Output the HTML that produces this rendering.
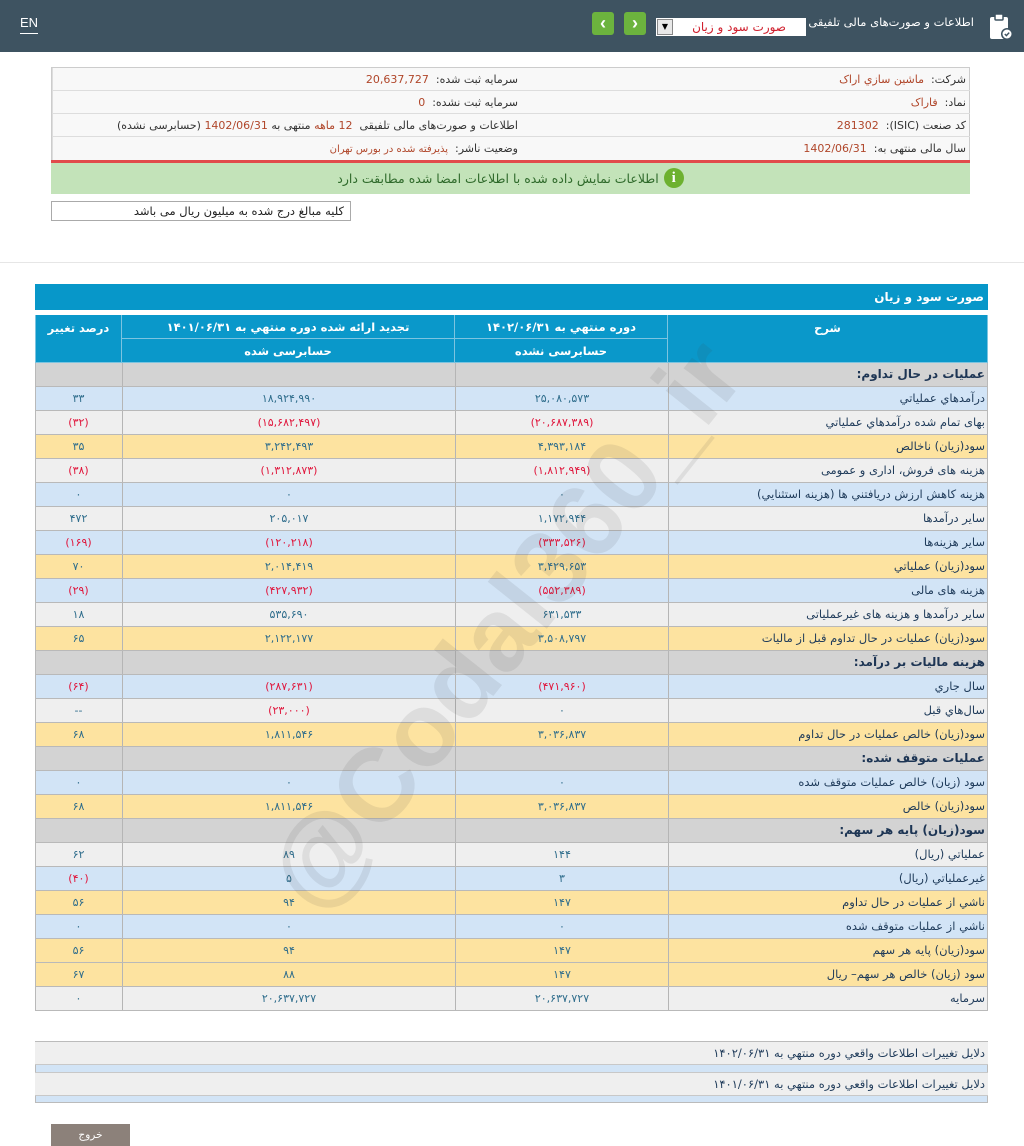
<!DOCTYPE html>
<html lang="fa">
<head>
<meta charset="utf-8">
<style>
*{margin:0;padding:0;box-sizing:border-box}
html,body{width:1024px;height:1146px;overflow:hidden;background:#fff;font-family:"DejaVu Sans","Liberation Sans",sans-serif;font-size:11px;color:#333}
.abs{position:absolute}
#hdr{left:0;top:0;width:1024px;height:52px;background:#3e5361}
.en{left:20px;top:14px;color:#fff;font-family:"Liberation Sans",sans-serif;font-size:13px;border-bottom:1px solid #fff;line-height:18px;padding-bottom:1px}
.gbtn{top:12px;width:22px;height:23px;background:#6cb33e;border-radius:3px;color:#fff;font-family:"Liberation Sans",sans-serif;font-size:18px;font-weight:bold;text-align:center;line-height:22px}
.sel{left:656px;top:18px;width:150px;height:18px;background:#fff;direction:rtl;color:#d0202e;font-size:12px;line-height:18px;padding-right:20px}
.selb{left:657px;top:19px;width:16px;height:16px;background:#e8e8e8;border:1px solid #888;font-size:8px;line-height:14px;text-align:center;color:#000}
.htitle{right:50px;top:13px;color:#fff;font-size:11.5px;direction:rtl;line-height:18px}
.info{left:51px;top:67px;width:919px;height:94px;border:1px solid #ccc;background:#f8f8f8}
.irow{position:absolute;height:23px;border-bottom:1px solid #ddd;direction:rtl;line-height:23px;font-size:11px;color:#333;padding-right:4px;white-space:nowrap}
.v{color:#b0462a}
.redline{left:51px;top:160px;width:919px;height:3px;background:#e14b4b}
.green{left:51px;top:163px;width:919px;height:31px;background:#c3e3b9;direction:rtl;text-align:center;line-height:31px;font-size:12.5px;color:#2f6a2b}
.icon{display:inline-block;width:20px;height:20px;border-radius:50%;background:#6db12f;color:#fff;font-weight:bold;font-family:"Liberation Serif",serif;font-size:15px;line-height:20px;text-align:center;vertical-align:middle;margin-left:5px;position:relative;top:-2px}
.note{left:51px;top:201px;width:300px;height:20px;border:1px solid #aaa;direction:rtl;padding-right:6px;line-height:18px;font-size:11.5px;color:#222}
.sep{left:0;top:262px;width:1024px;height:1px;background:#e6e6e6}
.title{left:35px;top:284px;width:953px;height:26px;background:#0797c9;color:#fff;direction:rtl;padding-right:4px;line-height:26px;font-size:12px;font-weight:bold}
.th{position:absolute;background:#0a98ca;color:#fff;text-align:center;font-weight:bold;font-size:11.5px;direction:rtl;border-right:1px solid #7cc4e0;border-bottom:1px solid #7cc4e0}
.row{position:absolute;left:35px;width:953px;height:24px;border-bottom:1px solid #b9b9b9}
.c{position:absolute;top:0;height:23px;line-height:23px;text-align:center;color:#2f6d8c;font-size:11px;direction:rtl;white-space:nowrap}
.c1{left:0;width:87px}
.c2{left:87px;width:333px;border-left:1px solid #b5b5b5}
.c3{left:420px;width:213px;border-left:1px solid #b5b5b5}
.c4{left:633px;width:320px;border-left:1px solid #b5b5b5;text-align:right;padding-right:3px;color:#1f3b5a;font-size:11.5px}
.sec .c4{font-weight:bold;color:#1d3554;font-size:12px}
.r{color:#e0173d}
.sec{background:#d3d3d3}
.lt{background:#efefef}
.bl{background:#d2e4f6}
.yl{background:#fde3a0}
.wm{left:140px;top:570px;width:730px;text-align:center;transform:rotate(-51.5deg);font-family:"Liberation Sans",sans-serif;font-weight:bold;font-size:104px;color:rgba(70,70,70,0.10);white-space:nowrap;line-height:110px;pointer-events:none}
.bb{left:35px;width:953px;background:#efefef;direction:rtl;padding-right:3px;font-size:11.5px;color:#1f3b5a}
.exit{left:51px;top:1124px;width:79px;height:22px;background:#8c817a;color:#fff;text-align:center;line-height:22px;font-size:10.5px}
</style>
</head>
<body>
<div id="hdr" class="abs"></div>
<div class="abs en">EN</div>
<div class="abs gbtn" style="left:592px">&#8249;</div>
<div class="abs gbtn" style="left:624px">&#8250;</div>
<div class="abs sel">صورت سود و زیان</div>
<div class="abs selb">&#9660;</div>
<div class="abs htitle">اطلاعات و صورت‌های مالی تلفیقی</div>
<svg class="abs" style="left:988px;top:13px" width="26" height="28" viewBox="0 0 26 28">
<rect x="2" y="4" width="18" height="22" rx="2" fill="#fff"/>
<rect x="7" y="1" width="8" height="6" rx="1" fill="#fff" stroke="#3e5361" stroke-width="1.5"/>
<circle cx="19" cy="21" r="6" fill="#3e5361"/>
<circle cx="19" cy="21" r="4.5" fill="#fff"/>
<path d="M16.8 21 l1.6 1.6 l2.8 -3" stroke="#3e5361" stroke-width="1.4" fill="none"/>
</svg>

<div class="abs info">
 <div class="irow" style="left:470px;top:0;width:448px;">شرکت:&nbsp; <span class="v">ماشین سازي اراک</span></div>
 <div class="irow" style="left:0;top:0;width:470px;border-left:1px solid #ddd">سرمایه ثبت شده:&nbsp; <span class="v">20,637,727</span></div>
 <div class="irow" style="left:470px;top:23px;width:448px;">نماد:&nbsp; <span class="v">فاراک</span></div>
 <div class="irow" style="left:0;top:23px;width:470px;border-left:1px solid #ddd">سرمایه ثبت نشده:&nbsp; <span class="v">0</span></div>
 <div class="irow" style="left:470px;top:46px;width:448px;">کد صنعت (ISIC):&nbsp; <span class="v">281302</span></div>
 <div class="irow" style="left:0;top:46px;width:470px;border-left:1px solid #ddd">اطلاعات و صورت‌های مالی تلفیقی&nbsp; <span class="v">12 ماهه</span> منتهی به <span class="v">1402/06/31</span> (حسابرسی نشده)</div>
 <div class="irow" style="left:470px;top:69px;width:448px;border-bottom:none">سال مالی منتهی به:&nbsp; <span class="v">1402/06/31</span></div>
 <div class="irow" style="left:0;top:69px;width:470px;border-left:1px solid #ddd;border-bottom:none">وضعیت ناشر:&nbsp; <span class="v" style="font-size:10px">پذیرفته شده در بورس تهران</span></div>
</div>
<div class="abs redline"></div>
<div class="abs green"><span class="icon">i</span>اطلاعات نمایش داده شده با اطلاعات امضا شده مطابقت دارد</div>
<div class="abs note">کلیه مبالغ درج شده به میلیون ریال می باشد</div>
<div class="abs sep"></div>

<div class="abs title">صورت سود و زیان</div>
<div class="th" style="left:35px;top:315px;width:87px;height:48px;line-height:26px;border-left:1px solid #7cc4e0">درصد تغییر</div>
<div class="th" style="left:122px;top:315px;width:333px;height:24px;line-height:24px">تجدید ارائه شده دوره منتهي به ۱۴۰۱/۰۶/۳۱</div>
<div class="th" style="left:122px;top:339px;width:333px;height:24px;line-height:24px">حسابرسی شده</div>
<div class="th" style="left:455px;top:315px;width:213px;height:24px;line-height:24px">دوره منتهي به ۱۴۰۲/۰۶/۳۱</div>
<div class="th" style="left:455px;top:339px;width:213px;height:24px;line-height:24px">حسابرسی نشده</div>
<div class="th" style="left:668px;top:315px;width:320px;height:48px;line-height:26px">شرح</div>

<div class="row sec" style="top:363px"><div class="c c1"></div><div class="c c2"></div><div class="c c3"></div><div class="c c4">عملیات در حال تداوم:</div></div>
<div class="row bl" style="top:387px"><div class="c c1">۳۳</div><div class="c c2">۱۸,۹۲۴,۹۹۰</div><div class="c c3">۲۵,۰۸۰,۵۷۳</div><div class="c c4">درآمدهاي عملياتي</div></div>
<div class="row lt" style="top:411px"><div class="c c1 r">(۳۲)</div><div class="c c2 r">(۱۵,۶۸۲,۴۹۷)</div><div class="c c3 r">(۲۰,۶۸۷,۳۸۹)</div><div class="c c4">بهاى تمام شده درآمدهاي عملياتي</div></div>
<div class="row yl" style="top:435px"><div class="c c1">۳۵</div><div class="c c2">۳,۲۴۲,۴۹۳</div><div class="c c3">۴,۳۹۳,۱۸۴</div><div class="c c4">سود(زيان) ناخالص</div></div>
<div class="row lt" style="top:459px"><div class="c c1 r">(۳۸)</div><div class="c c2 r">(۱,۳۱۲,۸۷۳)</div><div class="c c3 r">(۱,۸۱۲,۹۴۹)</div><div class="c c4">هزينه هاى فروش، ادارى و عمومى</div></div>
<div class="row bl" style="top:483px"><div class="c c1">۰</div><div class="c c2">۰</div><div class="c c3">۰</div><div class="c c4">هزينه کاهش ارزش دريافتني ها (هزينه استثنايي)</div></div>
<div class="row lt" style="top:507px"><div class="c c1">۴۷۲</div><div class="c c2">۲۰۵,۰۱۷</div><div class="c c3">۱,۱۷۲,۹۴۴</div><div class="c c4">ساير درآمدها</div></div>
<div class="row bl" style="top:531px"><div class="c c1 r">(۱۶۹)</div><div class="c c2 r">(۱۲۰,۲۱۸)</div><div class="c c3 r">(۳۳۳,۵۲۶)</div><div class="c c4">ساير هزينه‌ها</div></div>
<div class="row yl" style="top:555px"><div class="c c1">۷۰</div><div class="c c2">۲,۰۱۴,۴۱۹</div><div class="c c3">۳,۴۲۹,۶۵۳</div><div class="c c4">سود(زيان) عملياتي</div></div>
<div class="row bl" style="top:579px"><div class="c c1 r">(۲۹)</div><div class="c c2 r">(۴۲۷,۹۳۲)</div><div class="c c3 r">(۵۵۲,۳۸۹)</div><div class="c c4">هزينه هاى مالى</div></div>
<div class="row lt" style="top:603px"><div class="c c1">۱۸</div><div class="c c2">۵۳۵,۶۹۰</div><div class="c c3">۶۳۱,۵۳۳</div><div class="c c4">ساير درآمدها و هزينه هاى غيرعملياتى</div></div>
<div class="row yl" style="top:627px"><div class="c c1">۶۵</div><div class="c c2">۲,۱۲۲,۱۷۷</div><div class="c c3">۳,۵۰۸,۷۹۷</div><div class="c c4">سود(زيان) عمليات در حال تداوم قبل از ماليات</div></div>
<div class="row sec" style="top:651px"><div class="c c1"></div><div class="c c2"></div><div class="c c3"></div><div class="c c4">هزينه ماليات بر درآمد:</div></div>
<div class="row bl" style="top:675px"><div class="c c1 r">(۶۴)</div><div class="c c2 r">(۲۸۷,۶۳۱)</div><div class="c c3 r">(۴۷۱,۹۶۰)</div><div class="c c4">سال جاري</div></div>
<div class="row lt" style="top:699px"><div class="c c1">--</div><div class="c c2 r">(۲۳,۰۰۰)</div><div class="c c3">۰</div><div class="c c4">سال‌هاي قبل</div></div>
<div class="row yl" style="top:723px"><div class="c c1">۶۸</div><div class="c c2">۱,۸۱۱,۵۴۶</div><div class="c c3">۳,۰۳۶,۸۳۷</div><div class="c c4">سود(زيان) خالص عمليات در حال تداوم</div></div>
<div class="row sec" style="top:747px"><div class="c c1"></div><div class="c c2"></div><div class="c c3"></div><div class="c c4">عمليات متوقف شده:</div></div>
<div class="row bl" style="top:771px"><div class="c c1">۰</div><div class="c c2">۰</div><div class="c c3">۰</div><div class="c c4">سود (زيان) خالص عمليات متوقف شده</div></div>
<div class="row yl" style="top:795px"><div class="c c1">۶۸</div><div class="c c2">۱,۸۱۱,۵۴۶</div><div class="c c3">۳,۰۳۶,۸۳۷</div><div class="c c4">سود(زيان) خالص</div></div>
<div class="row sec" style="top:819px"><div class="c c1"></div><div class="c c2"></div><div class="c c3"></div><div class="c c4">سود(زيان) پايه هر سهم:</div></div>
<div class="row lt" style="top:843px"><div class="c c1">۶۲</div><div class="c c2">۸۹</div><div class="c c3">۱۴۴</div><div class="c c4">عملياتي (ريال)</div></div>
<div class="row bl" style="top:867px"><div class="c c1 r">(۴۰)</div><div class="c c2">۵</div><div class="c c3">۳</div><div class="c c4">غيرعملياتي (ريال)</div></div>
<div class="row yl" style="top:891px"><div class="c c1">۵۶</div><div class="c c2">۹۴</div><div class="c c3">۱۴۷</div><div class="c c4">ناشي از عمليات در حال تداوم</div></div>
<div class="row bl" style="top:915px"><div class="c c1">۰</div><div class="c c2">۰</div><div class="c c3">۰</div><div class="c c4">ناشي از عمليات متوقف شده</div></div>
<div class="row yl" style="top:939px"><div class="c c1">۵۶</div><div class="c c2">۹۴</div><div class="c c3">۱۴۷</div><div class="c c4">سود(زيان) پايه هر سهم</div></div>
<div class="row yl" style="top:963px"><div class="c c1">۶۷</div><div class="c c2">۸۸</div><div class="c c3">۱۴۷</div><div class="c c4">سود (زيان) خالص هر سهم– ريال</div></div>
<div class="row lt" style="top:987px"><div class="c c1">۰</div><div class="c c2">۲۰,۶۳۷,۷۲۷</div><div class="c c3">۲۰,۶۳۷,۷۲۷</div><div class="c c4">سرمايه</div></div>
<div class="abs" style="left:35px;top:363px;width:1px;height:648px;background:#b9b9b9"></div>
<div class="abs" style="left:987px;top:363px;width:1px;height:648px;background:#b9b9b9"></div>

<div class="abs wm">@Codal360_ir</div>

<div class="abs" style="left:35px;top:1041px;width:953px;height:62px;border:1px solid #bbb;background:#d2e4f6"></div>
<div class="abs bb" style="top:1042px;height:23px;line-height:23px;border-bottom:1px solid #c8c8c8">دلایل تغییرات اطلاعات واقعي دوره منتهي به ۱۴۰۲/۰۶/۳۱</div>
<div class="abs bb" style="top:1072px;height:24px;line-height:23px;border-top:1px solid #c8c8c8;border-bottom:1px solid #c8c8c8">دلایل تغییرات اطلاعات واقعي دوره منتهي به ۱۴۰۱/۰۶/۳۱</div>

<div class="abs exit">خروج</div>
</body>
</html>
